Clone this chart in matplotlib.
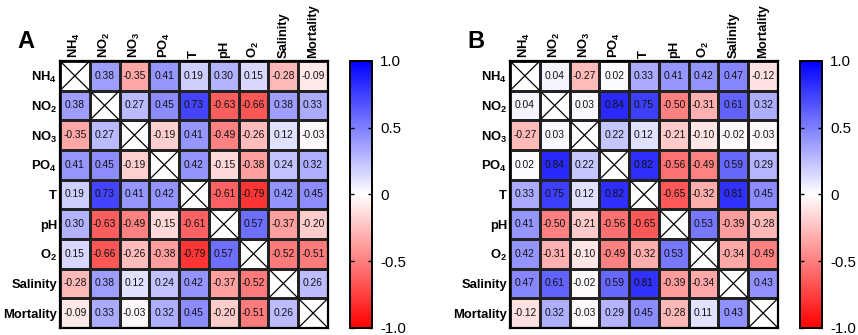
import matplotlib
matplotlib.use("Agg")
import matplotlib.pyplot as plt
import numpy as np
from matplotlib.colors import LinearSegmentedColormap

plt.rcParams["font.family"] = ["Liberation Sans", "DejaVu Sans"]
plt.rcParams["mathtext.fontset"] = "custom"
plt.rcParams["mathtext.rm"] = "Liberation Sans:bold"
plt.rcParams["mathtext.it"] = "Liberation Sans:bold"
plt.rcParams["mathtext.bf"] = "Liberation Sans:bold"

labels = ["NH$_4$", "NO$_2$", "NO$_3$", "PO$_4$", "T", "pH", "O$_2$",
          "Salinity", "Mortality"]

X = None
corr_a = [
    [X, 0.38, -0.35, 0.41, 0.19, 0.30, 0.15, -0.28, -0.09],
    [0.38, X, 0.27, 0.45, 0.73, -0.63, -0.66, 0.38, 0.33],
    [-0.35, 0.27, X, -0.19, 0.41, -0.49, -0.26, 0.12, -0.03],
    [0.41, 0.45, -0.19, X, 0.42, -0.15, -0.38, 0.24, 0.32],
    [0.19, 0.73, 0.41, 0.42, X, -0.61, -0.79, 0.42, 0.45],
    [0.30, -0.63, -0.49, -0.15, -0.61, X, 0.57, -0.37, -0.20],
    [0.15, -0.66, -0.26, -0.38, -0.79, 0.57, X, -0.52, -0.51],
    [-0.28, 0.38, 0.12, 0.24, 0.42, -0.37, -0.52, X, 0.26],
    [-0.09, 0.33, -0.03, 0.32, 0.45, -0.20, -0.51, 0.26, X],
]
corr_b = [
    [X, 0.04, -0.27, 0.02, 0.33, 0.41, 0.42, 0.47, -0.12],
    [0.04, X, 0.03, 0.84, 0.75, -0.50, -0.31, 0.61, 0.32],
    [-0.27, 0.03, X, 0.22, 0.12, -0.21, -0.10, -0.02, -0.03],
    [0.02, 0.84, 0.22, X, 0.82, -0.56, -0.49, 0.59, 0.29],
    [0.33, 0.75, 0.12, 0.82, X, -0.65, -0.32, 0.81, 0.45],
    [0.41, -0.50, -0.21, -0.56, -0.65, X, 0.53, -0.39, -0.28],
    [0.42, -0.31, -0.10, -0.49, -0.32, 0.53, X, -0.34, -0.49],
    [0.47, 0.61, -0.02, 0.59, 0.81, -0.39, -0.34, X, 0.43],
    [-0.12, 0.32, -0.03, 0.29, 0.45, -0.28, 0.11, 0.43, X],
]
cbar_ticks = [-1.0, -0.5, 0, 0.5, 1.0]
cbar_labels = ["-1.0", "-0.5", "0", "0.5", "1.0"]

cmap = LinearSegmentedColormap.from_list("rwb", ["#ff0000", "#ffffff", "#0000ff"])


def draw_panel(fig, ax, cax, data, letter):
    n = len(labels)
    arr = np.array([[np.nan if v is None else v for v in row] for row in data])
    masked = np.ma.masked_invalid(arr)
    ax.set_facecolor("white")
    mesh = ax.pcolormesh(masked, cmap=cmap, vmin=-1, vmax=1,
                         edgecolors="#222222", linewidth=0.9)
    for i in range(n):
        for j in range(n):
            if data[i][j] is None:
                ax.plot([j, j + 1], [i, i + 1], color="black", lw=0.9)
                ax.plot([j, j + 1], [i + 1, i], color="black", lw=0.9)
                ax.plot([j, j + 1, j + 1, j, j], [i, i, i + 1, i + 1, i],
                        color="#222222", lw=0.9)
            else:
                ax.text(j + 0.5, i + 0.5, f"{data[i][j]:.2f}", ha="center",
                        va="center", fontsize=7.4, color="#111111")
    ax.set_xlim(0, n)
    ax.set_ylim(n, 0)
    ax.xaxis.tick_top()
    ax.set_xticks(np.arange(n) + 0.5)
    ax.set_xticklabels(labels, rotation=90, fontsize=9.4, fontweight="bold")
    ax.set_yticks(np.arange(n) + 0.5)
    ax.set_yticklabels(labels, fontsize=9.4, fontweight="bold")
    ax.tick_params(length=0, pad=2)
    for s in ax.spines.values():
        s.set_linewidth(1.6)

    cb = fig.colorbar(mesh, cax=cax, ticks=cbar_ticks)
    cb.ax.set_yticklabels(cbar_labels, fontsize=10.8)
    cb.ax.tick_params(direction="in", left=True, right=True, length=3,
                      width=1, pad=6)
    cb.outline.set_linewidth(1.4)

    fig.text(ax.get_position().x0 - 0.05, 0.875, letter, fontsize=17,
             fontweight="bold", ha="left", va="center")


fig = plt.figure(figsize=(8.58, 3.35), dpi=100)
ax_a = fig.add_axes([0.0699, 0.021, 0.3124, 0.797])
cax_a = fig.add_axes([0.408, 0.021, 0.0256, 0.797])
ax_b = fig.add_axes([0.5944, 0.021, 0.3124, 0.797])
cax_b = fig.add_axes([0.9324, 0.021, 0.0256, 0.797])

draw_panel(fig, ax_a, cax_a, corr_a, "A")
draw_panel(fig, ax_b, cax_b, corr_b, "B")

fig.savefig("out.png", dpi=100)
